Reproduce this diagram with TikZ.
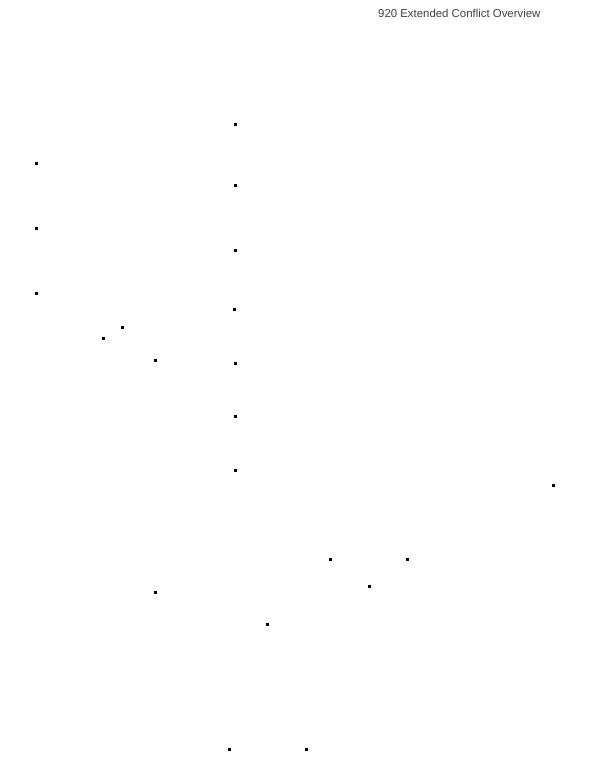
\documentclass[tikz,border=0pt]{standalone}
\usepackage{fontspec}
\setmainfont{Liberation Sans}
\usetikzlibrary{calc}
\def\tip(#1,#2){\fill[black] (#1-1, #2-1) rectangle (#1+1.5, #2+1.5);}

\begin{document}
\begin{tikzpicture}[x=1pt, y=-1pt]
	%%%%% START %%%%%
	
	\useasboundingbox (0, 0) rectangle (589, 768);
	
	\node[anchor=west, inner sep=0pt, font=\fontsize{11.4}{13}\selectfont, color=black!75] (title) at (378, 13) {920 Extended Conflict Overview};
	
	% left column
	\tip(36, 163)
	\tip(36, 228)
	\tip(36, 293)
	
	\tip(122, 327)
	\tip(103, 338)
	\tip(155, 360)
	\tip(155, 592)
	
	% middle column
	\tip(235, 124)
	\tip(235, 185)
	\tip(235, 250)
	\tip(234, 309)
	\tip(235, 363)
	\tip(235, 416)
	\tip(235, 470)
	
	% right side
	\tip(553, 485)
	\tip(330, 559)
	\tip(407, 559)
	\tip(369, 586)
	\tip(267, 624)
	
	% bottom
	\tip(229, 749)
	\tip(306, 749)
	
	%%%%% END %%%%%
\end{tikzpicture}
\end{document}
